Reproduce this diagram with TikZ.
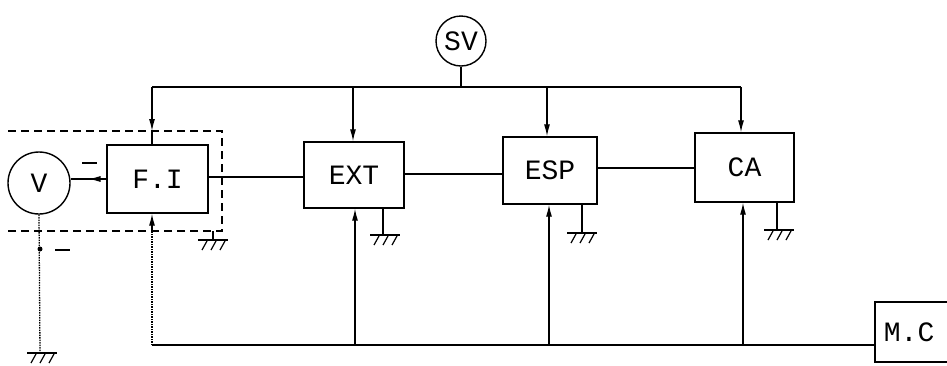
\documentclass[tikz,border=0pt]{standalone}
\usepackage{fontspec}
\newfontfamily\monofam{Liberation Mono}
\usetikzlibrary{arrows.meta,calc}
\begin{document}
\begin{tikzpicture}[x=1pt,y=-1pt,line width=1.2pt,
  lbl/.style={font=\monofam\fontsize{28}{28}\selectfont},
  blk/.style={draw,line width=1.4pt,inner sep=0pt,lbl},
  ring/.style={draw,circle,line width=1.4pt,inner sep=0pt,lbl},
  arr/.style={-{Latex[length=12pt,width=6pt]}},
  faint/.style={line width=1.3pt,dash pattern=on 1.5pt off 1pt},
  dbox/.style={line width=1.1pt,dash pattern=on 8pt off 5pt},
  ground/.pic={\draw[line width=1.3pt] (-15,0)--(15,0);
    \foreach \i in {-9,0,9} \draw[line width=1.2pt] (\i+3,1)--(\i-2,10);}
]
\useasboundingbox (0,0) rectangle (947,365);
\clip (0,0) rectangle (947,365);

% nodes
\node[ring,minimum size=50pt] (sv) at (461,41) {SV};
\node[ring,minimum size=62pt] (v) at (39,183) {V};
\node[blk,minimum width=101pt,minimum height=68pt] (fi) at (157.5,179) {F.I};
\node[blk,minimum width=100pt,minimum height=66pt] (ext) at (354,175) {EXT};
\node[blk,minimum width=94pt,minimum height=67pt] (esp) at (550,170.5) {ESP};
\node[blk,minimum width=99pt,minimum height=69pt] (ca) at (744.5,167.5) {CA};
\node[blk,minimum width=100pt,minimum height=60pt] (mc) at (925,332) {};
\node[lbl,anchor=west] (mclbl) at (880,332) {M.C};

% bus coordinates
\coordinate (tFI) at (152,87);
\coordinate (tEXT) at (353,87);
\coordinate (tESP) at (547,87);
\coordinate (tCA) at (741,87);
\coordinate (tSV) at (461,87);
\coordinate (bFI) at (152,345);
\coordinate (bEXT) at (355,345);
\coordinate (bESP) at (549,345);
\coordinate (bCA) at (743,345);
\coordinate (dTop) at (152,131);
\coordinate (dBot) at (152,231);

% dashed enclosure
\draw[dbox] (8,131) -- (222,131) -- (222,231) -- (8,231);

% top bus
\draw (tFI) -- (tCA);
\draw (sv.south) -- (tSV);
\draw[arr] (tFI) -- (dTop);
\draw (dTop) -- (tFI |- fi.north);
\draw[arr] (tEXT) -- (tEXT |- ext.north);
\draw[arr] (tESP) -- (tESP |- esp.north);
\draw[arr] (tCA) -- (tCA |- ca.north);

% signal chain
\draw (fi.east |- 0,177) -- (ext.west |- 0,177);
\draw (ext.east |- 0,174) -- (esp.west |- 0,174);
\draw (esp.east |- 0,168) -- (ca.west |- 0,168);
\draw (fi.west) -- (fi.west -| v.east);
\draw[arr] (fi.west) -- ($(fi.west)!0.5!(fi.west -| v.east)$);
\draw (82,163) -- (97,163);

% bottom bus
\draw (bFI) -- (bFI -| mc.west);
\draw[faint] (bFI) -- (dBot);
\draw[arr] (dBot) -- (bFI |- fi.south);
\draw[arr] (bEXT) -- (bEXT |- ext.south);
\draw[arr] (bESP) -- (bESP |- esp.south);
\draw[arr] (bCA) -- (bCA |- ca.south);

% grounds
\coordinate (gFI) at (213,231);
\draw (gFI) -- (213,240);
\pic at (213,240) {ground};
\coordinate (gEXT) at (383,208);
\draw (gEXT) -- (383,235);
\pic at (385,235) {ground};
\coordinate (gESP) at (582,204);
\draw (gESP) -- (582,233);
\pic at (582,233) {ground};
\coordinate (gCA) at (777,202);
\draw (gCA) -- (777,230);
\pic at (779,230) {ground};
\draw[faint] (v.south) -- (40,353);
\pic at (42,353) {ground};
\fill (40,249) circle (2.5pt);
\draw (55,250) -- (70,250);
\end{tikzpicture}
\end{document}
